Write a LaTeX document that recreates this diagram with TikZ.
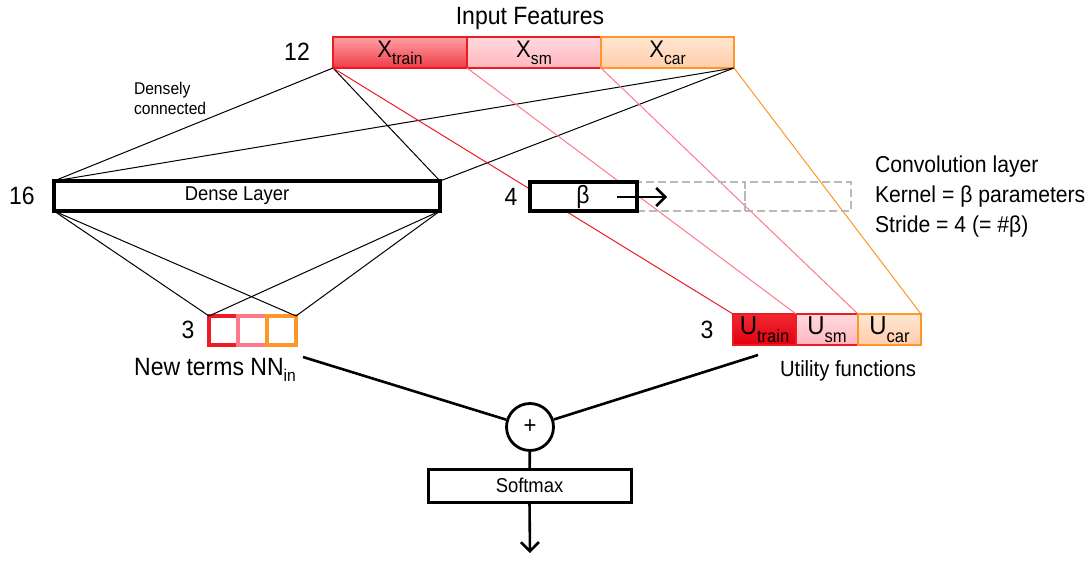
\documentclass[tikz,border=0pt]{standalone}
\usepackage{fontspec}
\setmainfont{Liberation Sans}[FakeStretch=0.92]
\usetikzlibrary{arrows.meta}

\newcommand\fsz[1]{\fontsize{#1}{#1}\selectfont}
\newcommand\xlbl[1]{{\fsz{24}X}\raisebox{-7pt}{\fsz{17}#1}}
\newcommand\ulbl[1]{{\fsz{26}U}\raisebox{-8pt}{\fsz{18}#1}}

\definecolor{cred}{RGB}{236,28,36}
\definecolor{cpink}{RGB}{255,120,140}
\definecolor{corange}{RGB}{255,150,40}
\definecolor{cgray}{RGB}{185,185,185}
\definecolor{xtrTop}{RGB}{255,160,165}
\definecolor{xtrBot}{RGB}{240,60,70}
\definecolor{smTop}{RGB}{255,218,222}
\definecolor{smBot}{RGB}{255,182,190}
\definecolor{carTop}{RGB}{255,230,210}
\definecolor{carBot}{RGB}{255,205,170}
\definecolor{utrTop}{RGB}{242,40,50}
\definecolor{utrBot}{RGB}{225,0,15}

\begin{document}
\begin{tikzpicture}[x=1pt,y=-1pt,
  box/.style={draw, inner sep=0pt, outer sep=0pt, anchor=north west},
  thin link/.style={line width=1pt},
  thick link/.style={line width=2.6pt},
  layer/.style={box, fill=white, line width=3.6pt},
  unit/.style={box, fill=white, line width=3.2pt, minimum width=29pt, minimum height=29pt},
  lbl/.style={inner sep=0pt, outer sep=0pt},
  tip/.style={-{Straight Barb[length=9pt,width=18pt,line width=2.6pt]}}]
\useasboundingbox (0,0) rectangle (1091,561);

% input feature blocks
\node[box, line width=1.4pt, draw=cred, top color=xtrTop, bottom color=xtrBot,
      minimum width=134pt, minimum height=31pt] (xtrain) at (333,37) {\xlbl{train}};
\node[box, line width=1.4pt, draw=cred, top color=smTop, bottom color=smBot,
      minimum width=134pt, minimum height=31pt] (xsm) at (467,37) {\xlbl{sm}};
\node[box, line width=1.4pt, draw=corange, top color=carTop, bottom color=carBot,
      minimum width=133pt, minimum height=31pt] (xcar) at (601,37) {\xlbl{car}};

% utility blocks
\node[box, line width=1.4pt, draw=cred, top color=utrTop, bottom color=utrBot,
      minimum width=63pt, minimum height=31pt] (utrain) at (733,314) {\ulbl{train}};
\node[box, line width=1.4pt, draw=cred, top color=smTop, bottom color=smBot,
      minimum width=62pt, minimum height=31pt] (usm) at (796,314) {\ulbl{sm}};
\node[box, line width=1.4pt, draw=corange, top color=carTop, bottom color=carBot,
      minimum width=63pt, minimum height=31pt] (ucar) at (858,314) {\ulbl{car}};

% dense connections
\draw[thin link] (xtrain.south west) -- (54,181) coordinate (dnw);
\draw[thin link] (xtrain.south west) -- (440,181) coordinate (dne);
\draw[thin link] (xcar.south east) -- (dnw);
\draw[thin link] (xcar.south east) -- (dne);

% feature-to-utility connections
\draw[thin link, cred] (xtrain.south west) -- (utrain.north west);
\draw[thin link, cpink] (xsm.south west) -- (usm.north west);
\draw[thin link, cpink] (xcar.south west) -- (ucar.north west);
\draw[thin link, corange] (xcar.south east) -- (ucar.north east);

% dense layer
\node[layer, minimum width=386pt, minimum height=30pt] (dense) at (54,181) {\fsz{20}Dense Layer\hspace*{20pt}};

% convolution kernel and its strides
\node[box, draw=cgray, dashed, dash pattern=on 8pt off 4pt, line width=2.6pt,
      minimum width=108pt, minimum height=29pt] (stride1) at (637,182) {};
\node[box, draw=cgray, dashed, dash pattern=on 8pt off 4pt, line width=2.6pt,
      minimum width=106pt, minimum height=29pt] (stride2) at (745,182) {};
\node[layer, line width=3.2pt, minimum width=107pt, minimum height=29pt] (beta) at (530,182) {};
\node[lbl] (betatxt) at (583,197) {\fsz{25}β};
\coordinate (arrs) at (617,197);
\coordinate (arre) at (667,197);
\draw[tip, line width=2.6pt] (arrs) -- (arre);

% new terms from the dense layer
\node[unit, draw=cred] (nn1) at (209,316) {};
\node[unit, draw=cpink] (nn2) at (238,316) {};
\node[unit, draw=corange] (nn3) at (267,316) {};
\draw[thin link] (dense.south west) -- (nn1.north west);
\draw[thin link] (dense.south west) -- (nn3.north east);
\draw[thin link] (dense.south east) -- (nn1.north west);
\draw[thin link] (dense.south east) -- (nn3.north east);

% output part
\node[circle, draw, line width=2.8pt, minimum size=47pt, inner sep=0pt] (plus) at (530,427) {\fsz{24}+};
\node[box, fill=white, line width=3pt, minimum width=203pt, minimum height=33pt] (soft) at (428,469) {\fsz{20}Softmax};
\coordinate (nnend) at (303,357);
\coordinate (uend) at (758,355);
\coordinate (out) at (530,553);
\draw[thick link] (nnend) -- (plus);
\draw[thick link] (uend) -- (plus);
\draw[thick link] (plus) -- (soft);
\draw[tip, line width=2.6pt] (soft.south) -- (out);

% labels
\node[lbl] (title) at (530,18) {\fsz{25}Input Features};
\node[lbl] (n12) at (297,52) {\fsz{25}12};
\node[lbl, anchor=north west, align=left, font=\fsz{17}] (dens) at (134,82) {Densely\\[3pt]connected};
\node[lbl] (n16) at (22,196) {\fsz{25}16};
\node[lbl] (n4) at (511,197) {\fsz{25}4};
\node[lbl, anchor=west, align=left, font=\fsz{23}] (conv) at (875,197)
  {Convolution layer\\[7pt]Kernel = β parameters\\[7pt]Stride = 4 (= \#β)};
\node[lbl] (n3a) at (188,330) {\fsz{25}3};
\node[lbl] (n3b) at (707,330) {\fsz{25}3};
\node[lbl, anchor=base] (nnlbl) at (215,375) {\fsz{25}New terms NN\raisebox{-6pt}{\fsz{17}in}};
\node[lbl, anchor=base west] (ulblt) at (780,376) {\fsz{22}Utility functions};
\end{tikzpicture}
\end{document}
